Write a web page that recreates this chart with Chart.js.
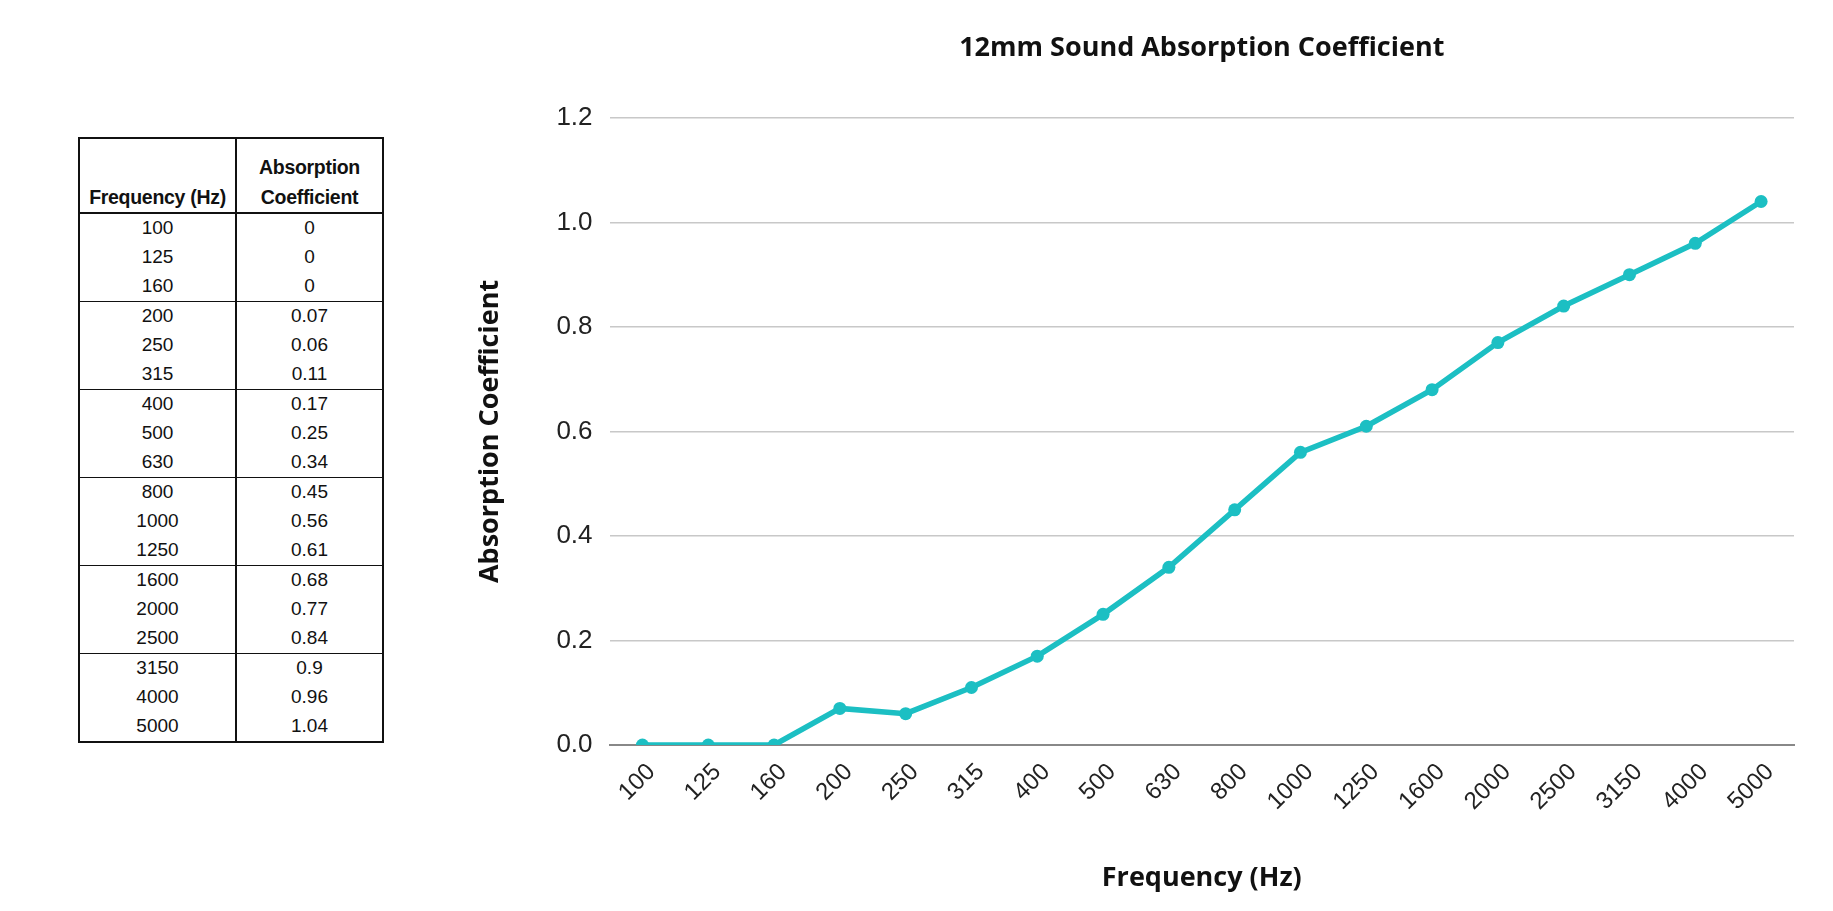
<!DOCTYPE html>
<html lang="en">
<head>
    <meta charset="UTF-8">
    <title>12mm Sound Absorption Coefficient</title>
    <script src="https://cdn.jsdelivr.net/npm/chart.js"></script>
    <style>
        html, body {
            margin: 0;
            padding: 0;
            background: #fff;
            width: 1833px;
            height: 911px;
            overflow: hidden;
        }
        .table-box {
            position: absolute;
            left: 78px;
            top: 137px;
        }
        table {
            border-collapse: collapse;
            font-family: "Liberation Sans", Arial, sans-serif;
            font-size: 19px;
            color: #111;
            border: 2.5px solid #111;
        }
        th, td {
            border-left: 2px solid #111;
            border-right: 2px solid #111;
            text-align: center;
            padding: 0;
            height: 29px;
        }
        th {
            font-weight: bold;
            font-size: 19.5px;
            height: 72.5px;
            vertical-align: bottom;
            padding-bottom: 0;
            line-height: 30px;
            letter-spacing: -0.3px;
            border-bottom: 2.5px solid #111;
        }
        th.freq { width: 155px; }
        th.coef { width: 145px; }
        tr.group td { border-top: 1.5px solid #111; }
        .chart-box {
            position: absolute;
            left: 440px;
            top: 0;
            width: 1393px;
            height: 911px;
        }
    </style>
</head>
<body>
    <div class="table-box">
        <table>
            <thead>
                <tr>
                    <th class="freq">Frequency (Hz)</th>
                    <th class="coef">Absorption<br>Coefficient</th>
                </tr>
            </thead>
            <tbody id="dataRows"></tbody>
        </table>
    </div>
    <div class="chart-box">
        <canvas id="absChart"></canvas>
    </div>

    <script>
        const frequencies = ['100', '125', '160', '200', '250', '315', '400', '500', '630',
            '800', '1000', '1250', '1600', '2000', '2500', '3150', '4000', '5000'];
        const coefficients = [0, 0, 0, 0.07, 0.06, 0.11, 0.17, 0.25, 0.34,
            0.45, 0.56, 0.61, 0.68, 0.77, 0.84, 0.9, 0.96, 1.04];
        const yTicks = [0, 0.2, 0.4, 0.6, 0.8, 1.0, 1.2];

        // table on the left
        const tbody = document.getElementById('dataRows');
        frequencies.forEach((f, i) => {
            const cls = (i > 0 && i % 3 === 0) ? ' class="group"' : '';
            tbody.innerHTML += `<tr${cls}><td>${f}</td><td>${coefficients[i]}</td></tr>`;
        });

        const lineColor = '#1CBFC3';
        const ctx = document.getElementById('absChart').getContext('2d');
        new Chart(ctx, {
            type: 'line',
            data: {
                labels: frequencies,
                datasets: [{
                    label: 'Absorption Coefficient',
                    data: coefficients,
                    borderColor: lineColor,
                    backgroundColor: lineColor,
                    borderWidth: 5.5,
                    pointRadius: 6.5,
                    pointBorderWidth: 0,
                    tension: 0
                }]
            },
            options: {
                responsive: true,
                maintainAspectRatio: false,
                animation: false,
                layout: { padding: { left: 30, right: 39, top: 32, bottom: 16 } },
                plugins: {
                    legend: { display: false },
                    tooltip: { enabled: false },
                    title: {
                        display: true,
                        fullSize: false,
                        text: '12mm Sound Absorption Coefficient',
                        color: '#111',
                        font: { family: 'Open Sans', size: 27, weight: 'bold' },
                        padding: { bottom: 53.5 }
                    }
                },
                scales: {
                    x: {
                        offset: true,
                        afterFit: scale => { scale.height = 150; },
                        grid: { display: false, drawTicks: false },
                        border: { color: '#888', width: 2 },
                        ticks: {
                            color: '#222',
                            font: { family: 'Liberation Sans', size: 24 },
                            minRotation: 45,
                            maxRotation: 45,
                            labelOffset: 9,
                            padding: 13
                        },
                        title: {
                            display: true,
                            text: 'Frequency (Hz)',
                            color: '#111',
                            font: { family: 'Open Sans', size: 27, weight: 'bold' },
                            padding: 0
                        }
                    },
                    y: {
                        min: 0,
                        max: 1.2,
                        afterBuildTicks: axis => { axis.ticks = yTicks.map(v => ({ value: v })); },
                        grid: { color: '#c8c8c8', lineWidth: 1.5, drawTicks: false },
                        border: { display: false },
                        ticks: {
                            color: '#222',
                            font: { family: 'Liberation Sans', size: 26 },
                            padding: 17,
                            callback: v => v.toFixed(1)
                        },
                        title: {
                            display: true,
                            text: 'Absorption Coefficient',
                            color: '#111',
                            font: { family: 'Open Sans', size: 27, weight: 'bold' },
                            padding: { bottom: 33 }
                        }
                    }
                }
            }
        });
    </script>
</body>
</html>
